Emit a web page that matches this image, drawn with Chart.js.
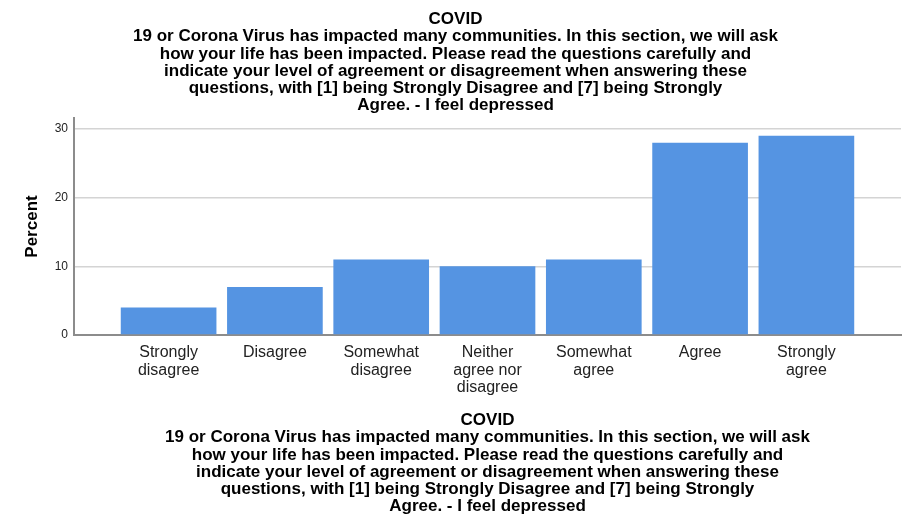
<!DOCTYPE html>
<html>
<head>
<meta charset="utf-8">
<script src="https://cdn.jsdelivr.net/npm/chart.js@4"></script>
<style>
  html, body { margin: 0; padding: 0; background: #fff; }
  #wrap { width: 903px; height: 515px; }
</style>
</head>
<body>
<div id="wrap"><canvas id="myChart" width="903" height="515"></canvas></div>
<script>
// Categories (answer options) and the percent for each one
var categories = [
    ["Strongly", "disagree"],
    ["Disagree"],
    ["Somewhat", "disagree"],
    ["Neither", "agree nor", "disagree"],
    ["Somewhat", "agree"],
    ["Agree"],
    ["Strongly", "agree"]
];
var percentValues = [4, 7, 11, 10, 11, 28, 29];
var yTicks = [0, 10, 20, 30];

var titleLines = [
    "COVID",
    "19 or Corona Virus has impacted many communities. In this section, we will ask",
    "how your life has been impacted. Please read the questions carefully and",
    "indicate your level of agreement or disagreement when answering these",
    "questions, with [1] being Strongly Disagree and [7] being Strongly",
    "Agree. - I feel depressed"
];

var fontName = "'Liberation Sans', Arial, sans-serif";

// bar points, one per category position
var points = percentValues.map(function (v, i) {
    return { x: i, y: v };
});

var ctx = document.getElementById('myChart').getContext('2d');
var chart = new Chart(ctx, {
    type: "bar",
    data: {
        datasets: [
            {
                label: "Percent",
                backgroundColor: "#5594e2",
                borderWidth: 0,
                barPercentage: 0.9,
                categoryPercentage: 1,
                data: points
            }
        ]
    },
    options: {
        responsive: false,
        animation: false,
        layout: { padding: { left: 10, right: 2, top: 0, bottom: 0 } },
        plugins: {
            legend: { display: false },
            tooltip: { enabled: false },
            title: {
                display: true,
                text: titleLines,
                color: "#000",
                font: { family: fontName, size: 17, weight: "bold", lineHeight: 1.01 },
                padding: { top: 11, bottom: 4 }
            }
        },
        scales: {
            x: {
                type: "linear",
                min: -0.89,
                max: 6.89,
                offset: false,
                afterFit: function (scale) { scale.height = 180; },
                grid: { display: false, drawTicks: false },
                border: { display: true, color: "#8c8c8c", width: 2 },
                afterBuildTicks: function (scale) {
                    scale.ticks = categories.map(function (c, i) { return { value: i }; });
                },
                ticks: {
                    autoSkip: false,
                    maxRotation: 0,
                    padding: 9,
                    color: "#222",
                    font: { family: fontName, size: 16, lineHeight: 1.1 },
                    callback: function (value) {
                        return categories[value];
                    }
                },
                title: {
                    display: true,
                    text: titleLines,
                    color: "#000",
                    font: { family: fontName, size: 17, weight: "bold", lineHeight: 1.01 },
                    padding: { top: 10, bottom: 0 }
                }
            },
            y: {
                min: 0,
                max: 31.6,
                afterFit: function (scale) { scale.width = 64; },
                afterBuildTicks: function (scale) {
                    scale.ticks = yTicks.map(function (t) { return { value: t }; });
                },
                grid: { color: "#d4d4d4", lineWidth: 1.5, drawTicks: false },
                border: { display: true, color: "#8c8c8c", width: 2 },
                ticks: {
                    padding: 6,
                    color: "#222",
                    font: { family: fontName, size: 12 }
                },
                title: {
                    display: true,
                    text: "Percent",
                    color: "#000",
                    font: { family: fontName, size: 17, weight: "bold", lineHeight: 1.2 },
                    padding: { top: 12, bottom: 0 }
                }
            }
        }
    }
});
</script>
</body>
</html>
